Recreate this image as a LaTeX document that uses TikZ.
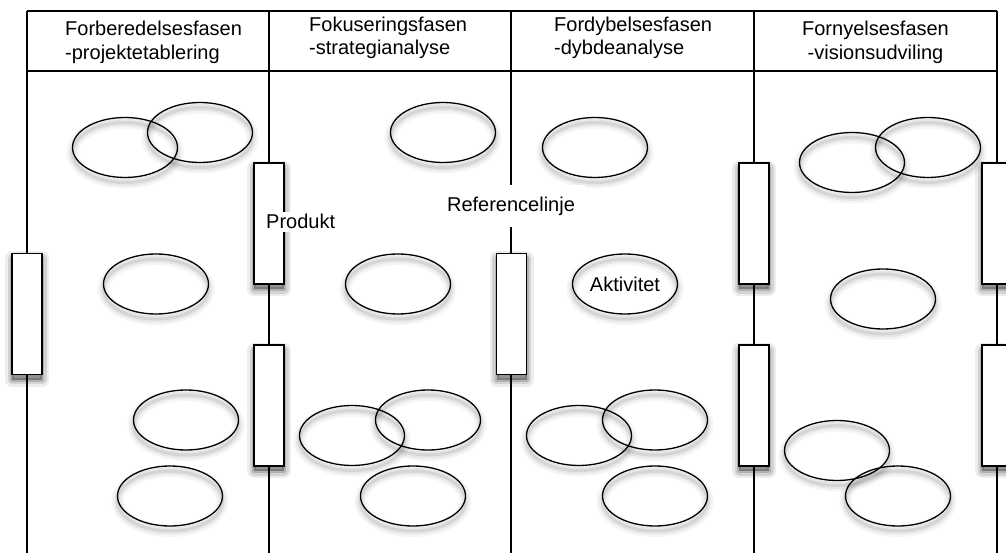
\documentclass[tikz,border=0pt]{standalone}
\usepackage{fontspec}
\setmainfont{Liberation Sans}
\usetikzlibrary{shapes.geometric,shadows}
\begin{document}
\begin{tikzpicture}[x=1pt,y=-1pt,
  every node/.style={font=\fontsize{20}{24}\selectfont},
  rule/.style={line width=1.4pt},
  act/.style={ellipse, draw, line width=1.3pt, minimum width=105pt, minimum height=60pt, inner sep=0pt,
    general shadow={draw=black, draw opacity=.04, line width=12pt, shadow yshift=-5pt},
    general shadow={draw=black, draw opacity=.06, line width=7pt, shadow yshift=-5pt},
    general shadow={draw=black, draw opacity=.08, line width=3pt, shadow yshift=-5pt}},
  prod/.style={rectangle, draw, fill=white, line width=1.4pt, minimum width=30pt, minimum height=121pt, inner sep=0pt,
    general shadow={fill=black, fill opacity=.07, draw=black, draw opacity=.07, line width=14pt, line join=round, shadow yshift=-5pt},
    general shadow={fill=black, fill opacity=.11, draw=black, draw opacity=.11, line width=9pt, line join=round, shadow yshift=-5pt},
    general shadow={fill=black, fill opacity=.16, draw=black, draw opacity=.16, line width=4pt, line join=round, shadow yshift=-5pt}},
  hd/.style={anchor=base west, inner sep=0pt},
  hdc/.style={anchor=base, inner sep=0pt}
]
\useasboundingbox (0,0) rectangle (1006,553);

% frame of the phase table
\coordinate (t0) at (27,11);  \coordinate (b0) at (27,553);
\coordinate (t1) at (269,11); \coordinate (b1) at (269,553);
\coordinate (t2) at (511,11); \coordinate (b2) at (511,553);
\coordinate (t3) at (754,11); \coordinate (b3) at (754,553);
\coordinate (t4) at (997,11); \coordinate (b4) at (997,553);
\coordinate (h0) at (27,71);  \coordinate (h4) at (997,71);

\draw[rule] (t0) -- (t4);
\draw[rule] (h0) -- (h4);
\foreach \i in {0,...,4} { \draw[rule] (t\i) -- (b\i); }

% phase headings
\node[hd] (h1a) at (65,36) {Forberedelsesfasen};
\node[hd] (h1b) at (65,60) {-projektetablering};
\node[hd] (h2a) at (309,32) {Fokuseringsfasen};
\node[hd] (h2b) at (309,55) {-strategianalyse};
\node[hd] (h3a) at (554,32) {Fordybelsesfasen};
\node[hd] (h3b) at (554,55) {-dybdeanalyse};
\node[hdc] (h4a) at (875.5,36) {Fornyelsesfasen};
\node[hdc] (h4b) at (875.5,60) {-visionsudviling};

% activities
\node[act] (e1)  at (125,147.5) {};
\node[act] (e2)  at (200,132.5) {};
\node[act] (e3)  at (156,284) {};
\node[act] (e4)  at (186,420) {};
\node[act] (e5)  at (170,496) {};
\node[act] (e6)  at (443,132.5) {};
\node[act] (e7)  at (398,284) {};
\node[act] (e8)  at (352,435.5) {};
\node[act] (e9)  at (428,420) {};
\node[act] (e10) at (413,496) {};
\node[act] (e11) at (595,147.5) {};
\node[act] (akt) at (625,284) {Aktivitet};
\node[act] (e12) at (579,435.5) {};
\node[act] (e13) at (655,420) {};
\node[act] (e14) at (655,496) {};
\node[act] (e15) at (852,162.5) {};
\node[act] (e16) at (928,147.5) {};
\node[act] (e17) at (883,299) {};
\node[act] (e18) at (837,450.5) {};
\node[act] (e19) at (898,496) {};

% products on the phase boundaries
\node[prod] (p0)  at (27,314) {};
\node[prod] (p1a) at (269,223.5) {};
\node[prod] (p1b) at (269,405.5) {};
\node[prod] (p2)  at (511.5,314) {};
\node[prod] (p3a) at (754,223.5) {};
\node[prod] (p3b) at (754,405.5) {};
\node[prod] (p4a) at (997,223.5) {};
\node[prod] (p4b) at (997,405.5) {};

% labels
\node[fill=white, inner xsep=2pt, inner ysep=3pt, anchor=base west] (produkt) at (264,229) {Produkt};
\node[fill=white, minimum width=147pt, minimum height=42pt, inner sep=0pt] (ref) at (511,206) {Referencelinje};
\end{tikzpicture}
\end{document}
